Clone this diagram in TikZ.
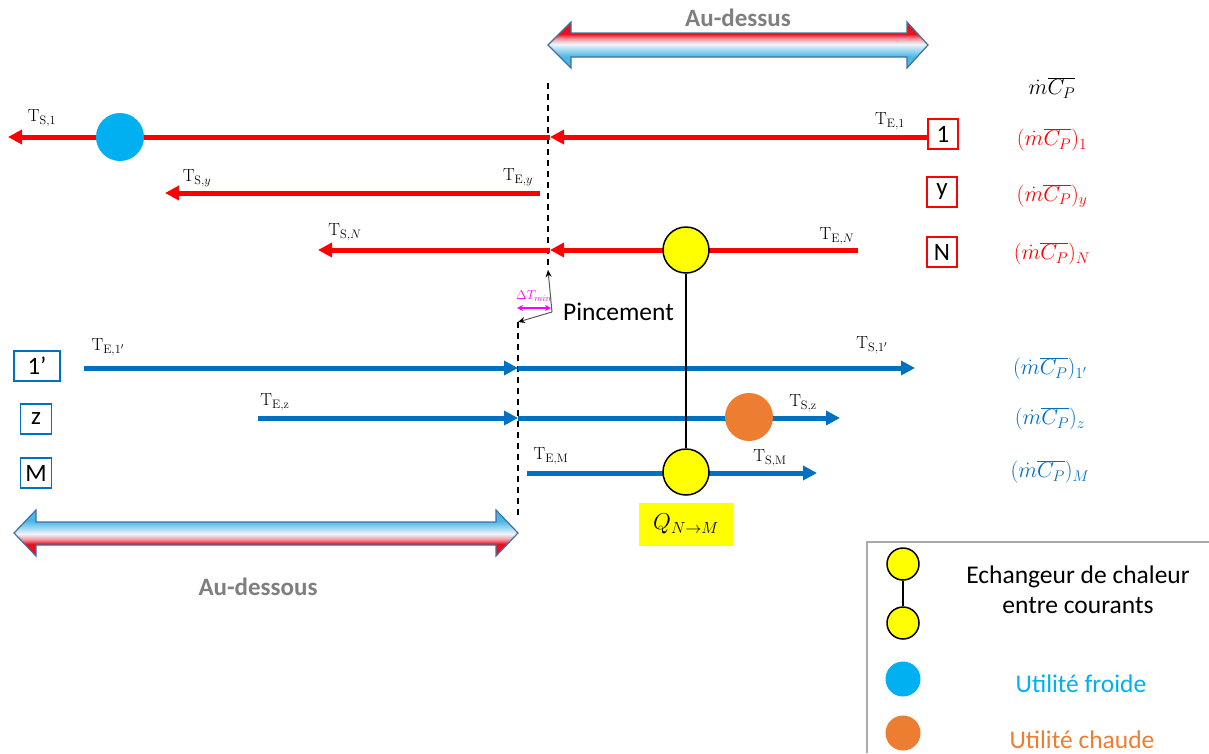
\documentclass[tikz,border=0pt]{standalone}
\usepackage{fix-cm}
\usepackage{fontspec}
\newfontfamily\calib{Carlito}
\usetikzlibrary{arrows.meta}
\definecolor{hotcol}{RGB}{255,0,0}
\definecolor{coldcol}{RGB}{0,112,192}
\definecolor{froidcol}{RGB}{0,176,240}
\definecolor{chaudcol}{RGB}{237,125,49}
\definecolor{hxcol}{RGB}{255,255,0}
\definecolor{zonetxt}{RGB}{127,127,127}
\definecolor{zoneedge}{RGB}{65,113,156}
\definecolor{zoneblue}{RGB}{75,182,232}
\definecolor{zonelight}{RGB}{165,218,242}
\definecolor{zonewhite}{RGB}{240,246,250}
\definecolor{zonepink}{RGB}{242,150,160}
\definecolor{zonered}{RGB}{232,18,28}
\definecolor{pinchcol}{RGB}{255,0,255}
\definecolor{legendcol}{RGB}{170,170,170}
\pgfdeclareverticalshading{zoneup}{100bp}{color(0bp)=(zoneblue); color(37bp)=(zoneblue);
  color(45bp)=(zonelight); color(51bp)=(zonewhite); color(57bp)=(zonepink);
  color(62bp)=(zonered); color(100bp)=(zonered)}
\pgfdeclareverticalshading{zonedown}{100bp}{color(0bp)=(zonered); color(38bp)=(zonered);
  color(43bp)=(zonepink); color(49bp)=(zonewhite); color(55bp)=(zonelight);
  color(63bp)=(zoneblue); color(100bp)=(zoneblue)}

\begin{document}
\begin{tikzpicture}[
  x=1pt, y=-1pt,
  hot/.style={draw=hotcol, line width=5pt, -{Triangle[length=14pt,width=14pt]}},
  cold/.style={draw=coldcol, line width=5pt, -{Triangle[length=14pt,width=14pt]}},
  tlab/.style={font=\fontsize{17.5}{20}\selectfont, inner sep=0pt},
  mlab/.style={font=\fontsize{22}{26}\selectfont, inner sep=0pt},
  hotbox/.style={draw=hotcol, line width=1.5pt, minimum width=30pt, minimum height=30pt,
    inner sep=0pt, font=\calib\fontsize{25}{28}\selectfont},
  coldbox/.style={draw=coldcol, line width=1.5pt, minimum width=31pt, minimum height=30pt,
    inner sep=0pt, font=\calib\fontsize{25}{28}\selectfont},
  hx/.style={circle, draw=black, line width=1.5pt, fill=hxcol, minimum size=46pt, inner sep=0pt},
  hxsmall/.style={circle, draw=black, line width=1.5pt, fill=hxcol, minimum size=32pt, inner sep=0pt},
  util/.style={circle, minimum size=48pt, inner sep=0pt},
  utilsmall/.style={circle, minimum size=35pt, inner sep=0pt},
  link/.style={draw=black, line width=2.5pt},
  pinch/.style={draw=black, line width=1.6pt, dash pattern=on 6pt off 5pt},
  zone/.style={draw=zoneedge, line width=1.2pt, line join=miter},
  zonelab/.style={font=\calib\bfseries\fontsize{25}{28}\selectfont, text=zonetxt},
  txt/.style={font=\calib\fontsize{25.5}{30}\selectfont, align=center}
]
\useasboundingbox (0,0) rectangle (1209,753);

%% ===================== Zones above / below =======================
\shadedraw[zone, shading=zoneup]
  (548,45) -- (571,22) -- (571,33) -- (907,33) -- (907,22) -- (928,45)
  -- (907,68) -- (907,57) -- (571,57) -- (571,68) -- cycle;
\node[zonelab] (above) at (738,18) {Au-dessus};

\shadedraw[zone, shading=zonedown]
  (14,533) -- (36,510) -- (36,522) -- (496,522) -- (496,510) -- (518,533)
  -- (496,556) -- (496,545) -- (36,545) -- (36,556) -- cycle;
\node[zonelab] (below) at (258,587) {Au-dessous};

%% ===================== Pinch lines ===============================
\coordinate (pupT) at (548,83);
\coordinate (pupB) at (548,270);
\coordinate (plowT) at (518,322);
\coordinate (plowB) at (518,518);
\draw[pinch] (pupT) -- (pupB);
\draw[pinch] (plowT) -- (plowB);

%% ===================== Hot streams ===============================
\coordinate (h1in) at (928,137);
\coordinate (h1p)  at (550,137);
\coordinate (h1out) at (8,137);
\coordinate (hyin) at (540,193);
\coordinate (hyout) at (165,193);
\coordinate (hNin) at (858,250);
\coordinate (hNp)  at (550,250);
\coordinate (hNout) at (318,250);
\draw[hot] (h1in) -- (h1p);
\draw[hot] (h1p) -- (h1out);
\draw[hot] (hyin) -- (hyout);
\draw[hot] (hNin) -- (hNp);
\draw[hot] (hNp) -- (hNout);

\node[hotbox] (b1) at (943,134) {1};
\node[hotbox] (by) at (942,192) {y};
\node[hotbox] (bN) at (942,252) {N};

%% ===================== Cold streams ==============================
\coordinate (c1in) at (84,368);
\coordinate (c1p)  at (518,368);
\coordinate (c1out) at (915,368);
\coordinate (czin) at (258,418);
\coordinate (czp)  at (518,418);
\coordinate (czout) at (840,418);
\coordinate (cMin) at (527,473);
\coordinate (cMout) at (817,473);
\draw[cold] (c1in) -- (c1p);
\draw[cold] (c1p) -- (c1out);
\draw[cold] (czin) -- (czp);
\draw[cold] (czp) -- (czout);
\draw[cold] (cMin) -- (cMout);

\node[coldbox, minimum width=46pt] (b1c) at (37,366) {1’};
\node[coldbox] (bz) at (36,419) {z};
\node[coldbox] (bM) at (36,473) {M};

%% ===================== Utilities and exchanger ===================
\node[util, fill=froidcol] (cu1) at (120,137) {};
\node[util, fill=chaudcol] (huz) at (749,417) {};
\node[hx] (hxN) at (686,250) {};
\node[hx] (hxM) at (686,472) {};
\draw[link] (hxN) -- (hxM);
\node[fill=hxcol, minimum width=95pt, minimum height=43pt, inner sep=0pt,
      font=\fontsize{23}{26}\selectfont] (qNM) at (686,524) {$Q_{N\to M}$};

%% ===================== Temperature labels ========================
\node[tlab] (ts1) at (42,118)  {$\mathrm{T}_{\mathrm{S},1}$};
\node[tlab] (te1) at (890,121) {$\mathrm{T}_{\mathrm{E},1}$};
\node[tlab] (tsy) at (197,178) {$\mathrm{T}_{\mathrm{S},y}$};
\node[tlab] (tey) at (518,177) {$\mathrm{T}_{\mathrm{E},y}$};
\node[tlab] (tsN) at (345,232) {$\mathrm{T}_{\mathrm{S},N}$};
\node[tlab] (teN) at (837,236) {$\mathrm{T}_{\mathrm{E},N}$};
\node[tlab] (te1c) at (108,347) {$\mathrm{T}_{\mathrm{E},1'}$};
\node[tlab] (ts1c) at (872,345) {$\mathrm{T}_{\mathrm{S},1'}$};
\node[tlab] (tez) at (275,402) {$\mathrm{T}_{\mathrm{E,z}}$};
\node[tlab] (tsz) at (803,403) {$\mathrm{T}_{\mathrm{S,z}}$};
\node[tlab] (teM) at (551,456) {$\mathrm{T}_{\mathrm{E,M}}$};
\node[tlab] (tsM) at (770,458) {$\mathrm{T}_{\mathrm{S,M}}$};

%% ===================== Heat capacity flow rates ==================
\node[mlab] (mcp) at (1052,88) {$\dot{m}\overline{C_P}$};
\node[mlab, text=hotcol] (mcp1) at (1052,140) {$(\dot{m}\overline{C_P})_1$};
\node[mlab, text=hotcol] (mcpy) at (1052,196) {$(\dot{m}\overline{C_P})_y$};
\node[mlab, text=hotcol] (mcpN) at (1052,254) {$(\dot{m}\overline{C_P})_N$};
\node[mlab, text=coldcol] (mcp1c) at (1050,369) {$(\dot{m}\overline{C_P})_{1'}$};
\node[mlab, text=coldcol] (mcpz) at (1050,419) {$(\dot{m}\overline{C_P})_z$};
\node[mlab, text=coldcol] (mcpM) at (1050,472) {$(\dot{m}\overline{C_P})_M$};

%% ===================== Pinch annotation ==========================
\coordinate (pcorner) at (552,312);
\draw[draw=black!65, line width=1pt, -{Stealth[length=7pt,width=6pt,black]}] (pcorner) -- (pupB);
\draw[draw=black!65, line width=1pt, -{Stealth[length=7pt,width=6pt,black]}] (pcorner) -- (plowT);
\coordinate (dtl) at (517,308);
\coordinate (dtr) at (551,308);
\draw[draw=pinchcol, line width=1.6pt, {Stealth[length=6pt,width=6pt]}-{Stealth[length=6pt,width=6pt]}] (dtl) -- (dtr);
\node[font=\fontsize{13}{15}\selectfont, text=pinchcol, inner sep=0pt] (dtmin) at (534,296) {$\Delta T_{min}$};
\node[txt, anchor=west, inner sep=0pt] (pinc) at (563,312) {Pincement};

%% ===================== Legend ====================================
\draw[draw=legendcol, line width=1.2pt] (1209,542) -- (867,542) -- (867,753);
\node[hxsmall] (lgA) at (903,564) {};
\node[hxsmall] (lgB) at (903,623) {};
\draw[link] (lgA) -- (lgB);
\node[utilsmall, fill=froidcol] (lgC) at (903,679) {};
\node[utilsmall, fill=chaudcol] (lgD) at (903,733) {};
\node[txt] (lgtA) at (1078,590) {Echangeur de chaleur\\entre courants};
\node[txt, text=froidcol] (lgtC) at (1081,684) {Utilité froide};
\node[txt, text=chaudcol] (lgtD) at (1082,740) {Utilité chaude};

\end{tikzpicture}
\end{document}
